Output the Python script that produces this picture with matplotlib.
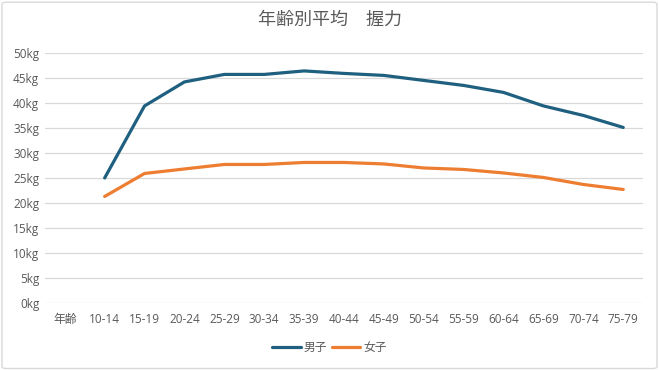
import numpy as np
import matplotlib.pyplot as plt
from matplotlib.patches import FancyBboxPatch

plt.rcParams['font.family'] = ['Open Sans', 'Noto Sans CJK JP', 'DejaVu Sans']

# categories and values (kg), first category is the axis header with no data
categories = ["年齢", "10-14", "15-19", "20-24", "25-29", "30-34", "35-39", "40-44",
              "45-49", "50-54", "55-59", "60-64", "65-69", "70-74", "75-79"]
male = [np.nan, 25.0, 39.4, 44.2, 45.7, 45.7, 46.4, 45.9,
        45.5, 44.5, 43.5, 42.1, 39.4, 37.5, 35.1]
female = [np.nan, 21.3, 25.9, 26.8, 27.7, 27.7, 28.1, 28.1,
          27.8, 27.0, 26.7, 26.0, 25.1, 23.7, 22.7]
yticks = [0, 5, 10, 15, 20, 25, 30, 35, 40, 45, 50]

text_color = '#595959'
grid_color = '#d9d9d9'

fig = plt.figure(figsize=(6.59, 3.70), dpi=100)
ax = fig.add_axes([0.068, 0.181, 0.908, 0.676])

x = np.arange(len(categories))
ax.plot(x, male, color='#1f5f7f', linewidth=2.3, label='男子', solid_capstyle='round')
ax.plot(x, female, color='#ed7d31', linewidth=2.3, label='女子', solid_capstyle='round')

ax.set_xlim(-0.5, len(categories) - 0.5)
ax.set_ylim(0, 50)
ax.set_yticks(yticks)
ax.set_yticklabels([f"{v}kg" for v in yticks])
ax.set_xticks(x)
ax.set_xticklabels(categories)
ax.tick_params(axis='both', length=0, labelsize=8.5, colors=text_color)
ax.tick_params(axis='x', pad=7)
ax.tick_params(axis='y', pad=4)
ax.grid(axis='y', color=grid_color, linewidth=0.9)
ax.set_axisbelow(True)
for s in ax.spines.values():
    s.set_visible(False)

fig.text(0.5, 0.946, "年齢別平均　握力", ha='center', va='center',
         fontsize=13, color=text_color)

leg = fig.legend(loc='center', bbox_to_anchor=(0.5, 0.06), ncol=2, frameon=False,
                 fontsize=8.5, handlelength=2.4, columnspacing=0.4, handletextpad=0.25)
for t in leg.get_texts():
    t.set_color(text_color)

border = FancyBboxPatch((0.003, 0.004), 0.994, 0.99, boxstyle='round,pad=0,rounding_size=0.006',
                        transform=fig.transFigure, fill=False, edgecolor=grid_color, linewidth=1)
fig.add_artist(border)

fig.savefig('out.png', dpi=100, facecolor='white')
